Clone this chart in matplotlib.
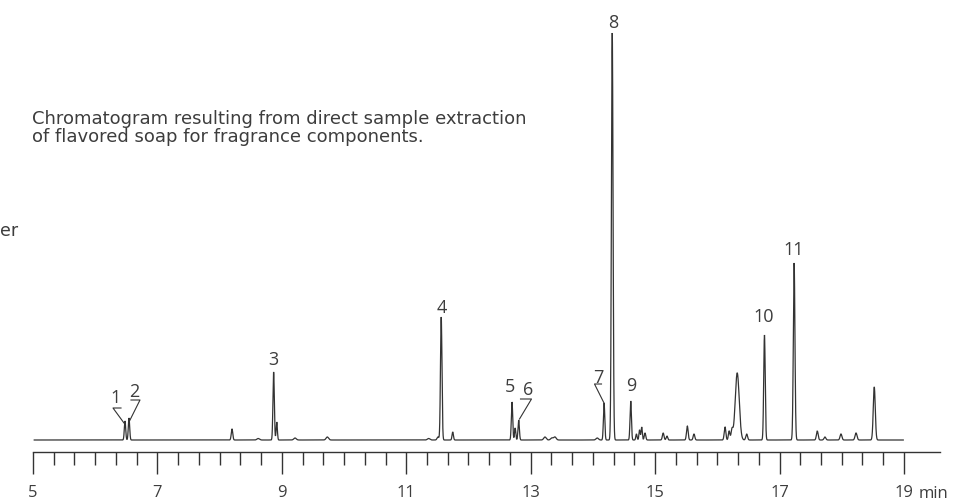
import numpy as np
import matplotlib
matplotlib.use('Agg')
import matplotlib.pyplot as plt
from matplotlib.ticker import FixedLocator, FixedFormatter

# ---------------- data (retention time in min, height in detector units) ----------------
peak_times = [6.479, 6.543, 8.199, 8.62, 8.868, 8.918, 9.212, 9.731,
              11.36, 11.51, 11.562, 11.747,
              12.700, 12.75, 12.807, 13.23, 13.34, 13.39,
              14.07, 14.180, 14.311, 14.608, 14.700, 14.75, 14.784, 14.838,
              15.13, 15.19, 15.518, 15.625,
              16.124, 16.19, 16.236, 16.32, 16.472,
              16.758, 17.235, 17.607, 17.73, 17.988, 18.23, 18.523]
peak_heights = [19, 22, 11, 1.5, 68, 18, 2, 3,
                1.5, 3, 123, 8,
                38, 12, 20, 3, 2, 3,
                2, 37, 407, 39, 6, 10, 13, 7,
                7, 4, 14, 6,
                13, 9, 10, 67, 6,
                105, 177, 9, 3, 6, 7, 53]
peak_widths = [0.011, 0.011, 0.012, 0.02, 0.011, 0.01, 0.02, 0.02,
               0.02, 0.015, 0.012, 0.011,
               0.011, 0.01, 0.011, 0.02, 0.02, 0.02,
               0.02, 0.011, 0.013, 0.011, 0.01, 0.01, 0.01, 0.012,
               0.013, 0.012, 0.013, 0.013,
               0.013, 0.012, 0.015, 0.032, 0.014,
               0.012, 0.013, 0.014, 0.015, 0.015, 0.016, 0.016]
run_start, run_end = 5.02, 18.99

peak_labels = ['1', '2', '3', '4', '5', '6', '7', '8', '9', '10', '11']

major_ticks = [5, 7, 9, 11, 13, 15, 17, 19]
major_tick_labels = ['5', '7', '9', '11', '13', '15', '17', '19']
minor_ticks = [5 + k / 3 for k in range(43) if k % 6 != 0]

note_lines = ["Chromatogram resulting from direct sample extraction",
              "of flavored soap for fragrance components."]

# ---------------- layout helpers (pixel -> data) ----------------
X0, PPM, BASE = 33.0, 62.21, 440.0
def tx(px):
    return 5 + (px - X0) / PPM
def ty(py):
    return BASE - py

plt.rcParams['font.family'] = ['Open Sans', 'DejaVu Sans']
INK = '#333333'
TXT = '#3d3d3d'

fig = plt.figure(figsize=(9.79, 5.04), dpi=100)
ax = fig.add_axes([0, 0, 1, 1])
ax.set_xlim(tx(0), tx(979))
ax.set_ylim(ty(504), ty(0))

# trace
t = np.arange(run_start, run_end, 0.001)
signal = np.zeros_like(t)
for rt, h, w in zip(peak_times, peak_heights, peak_widths):
    signal += h * np.exp(-0.5 * ((t - rt) / w) ** 2)
ax.plot(t, signal, color=INK, lw=0.9, solid_joinstyle='miter')

# axis
for s in ['top', 'right', 'left']:
    ax.spines[s].set_visible(False)
ax.spines['bottom'].set_position(('data', ty(452)))
ax.spines['bottom'].set_bounds(5, tx(940))
ax.spines['bottom'].set_color(INK)
ax.spines['bottom'].set_linewidth(1.0)
ax.xaxis.set_major_locator(FixedLocator(major_ticks))
ax.xaxis.set_major_formatter(FixedFormatter(major_tick_labels))
ax.xaxis.set_minor_locator(FixedLocator(minor_ticks))
ax.tick_params(axis='x', which='major', direction='out', length=15.5, width=1.0,
               color=INK, pad=8, labelsize=12, labelcolor=TXT)
ax.tick_params(axis='x', which='minor', direction='out', length=9.5, width=1.0, color=INK)
ax.yaxis.set_visible(False)
ax.text(tx(919), ty(497.5), 'min', fontsize=12, color=TXT, ha='left', va='baseline')

# peak labels (position in pixels of the reference layout)
label_pos = {'1': (116, 403), '2': (134.5, 397), '3': (273.5, 365), '4': (441.5, 313),
             '5': (510, 392), '6': (528, 395), '7': (598.5, 383), '8': (613, 28),
             '9': (631, 391), '10': (764, 322), '11': (793.5, 255)}
for lab in peak_labels:
    px, py = label_pos[lab]
    ax.text(tx(px), ty(py), lab, fontsize=13, color=TXT, ha='center', va='baseline')

# leader lines
leaders = [[(121, 408), (113, 408), (124, 423)],
           [(131, 400), (140, 400), (129, 422)],
           [(520.5, 399), (531.5, 399), (519.5, 419)],
           [(601.5, 384), (594.5, 384), (604, 403)]]
for pts in leaders:
    xs = [tx(p[0]) for p in pts]
    ys = [ty(p[1]) for p in pts]
    ax.plot(xs, ys, color=INK, lw=0.8)

# notes
for i, line in enumerate(note_lines):
    ax.text(tx(32), ty(123.5 + 19 * i), line, fontsize=13, color=TXT, ha='left',
            va='baseline', family=['DejaVu Sans'])
ax.text(tx(0), ty(236), 'er', fontsize=12.5, color=TXT, ha='left', va='baseline',
        family=['DejaVu Sans'])

fig.savefig('out.png', dpi=100)
